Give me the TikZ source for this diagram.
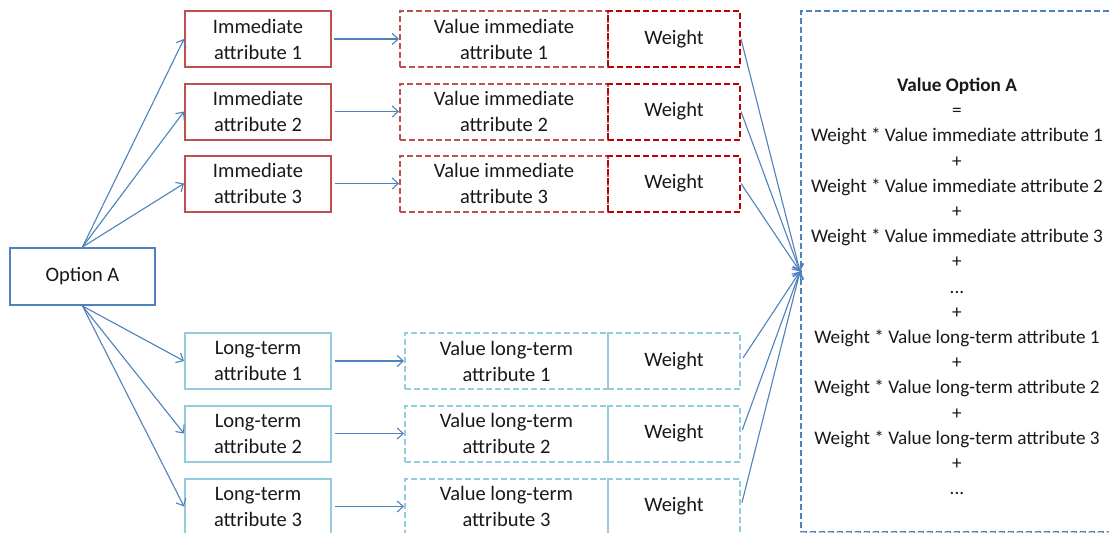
\documentclass[tikz,border=0pt]{standalone}
\usepackage{fontspec}
\setmainfont{Carlito}
\usetikzlibrary{arrows.meta}
\definecolor{ablue}{HTML}{4F81BD}
\definecolor{ired}{HTML}{C0504D}
\definecolor{wred}{HTML}{C00000}
\definecolor{lblue}{HTML}{93CDDD}
\definecolor{bblue}{HTML}{B9CDE5}
\tikzset{
  base/.style={rectangle, inner sep=0pt, align=center, fill=white, text=black!90, font=\fontsize{20.5}{26}\selectfont},
  optbox/.style={base, draw=ablue, line width=2pt, minimum width=145pt, minimum height=57pt},
  attrI/.style={base, draw=ired, line width=2pt, minimum width=146pt, minimum height=56pt},
  attrL/.style={base, draw=lblue, line width=2pt, minimum width=146pt, minimum height=56pt},
  dsh/.style={dash pattern=on 6pt off 3pt},
  valI/.style={base, draw=ired, dsh, line width=2pt, minimum width=208pt, minimum height=56pt},
  wtI/.style={base, draw=wred, dsh, line width=2pt, minimum width=132pt, minimum height=56pt, fill=none},
  valL/.style={base, draw=lblue, dsh, line width=2pt, minimum width=203pt, minimum height=56pt},
  wtL/.style={base, draw=lblue, dsh, line width=2pt, minimum width=132pt, minimum height=56pt, fill=none},
  sumbox/.style={rectangle, inner sep=0pt, draw=ablue, dsh, line width=2pt, minimum width=312pt, minimum height=521pt},
  formula/.style={align=center, inner sep=0pt, text=black!90, font=\fontsize{19.2}{25.2}\selectfont},
  arr/.style={draw=ablue, line width=1.1pt, -{Straight Barb[length=6pt,width=11pt,line width=1.1pt]}}
}
\begin{document}
\begin{tikzpicture}[x=1pt,y=-1pt]
\useasboundingbox (0,0) rectangle (1109,533);
\clip (0,0) rectangle (1109,533);
\fill[white] (0,0) rectangle (1109,533);

% summary box
\node[sumbox] (sum) at (957,271.5) {};
\draw[bblue, line width=2pt, dsh] (sum.south west) -- (sum.south east);
\node[formula] (form) at (957,286.5) {\textbf{Value Option A}\\=\\Weight * Value immediate attribute 1\\+\\Weight * Value immediate attribute 2\\+\\Weight * Value immediate attribute 3\\+\\...\\+\\Weight * Value long-term attribute 1\\+\\Weight * Value long-term attribute 2\\+\\Weight * Value long-term attribute 3\\+\\...};
\coordinate (conv) at (sum.west);

% option
\node[optbox] (opt) at (82.5,276.5) {Option A};

% immediate attributes
\node[attrI] (i1) at (258,39) {Immediate\\attribute 1};
\node[attrI] (i2) at (258,111.5) {Immediate\\attribute 2};
\node[attrI] (i3) at (258,183.5) {Immediate\\attribute 3};

% long-term attributes
\node[attrL] (l1) at (258,361) {Long-term\\attribute 1};
\node[attrL] (l2) at (258,433.5) {Long-term\\attribute 2};
\node[attrL] (l3) at (258,506.5) {Long-term\\attribute 3};

% value + weight immediate
\node[valI] (vi1) at (504,39) {Value immediate\\attribute 1};
\node[wtI] (wi1) at (674,39) {Weight};
\node[valI] (vi2) at (504,111.5) {Value immediate\\attribute 2};
\node[wtI] (wi2) at (674,111.5) {Weight};
\node[valI] (vi3) at (504,183.5) {Value immediate\\attribute 3};
\node[wtI] (wi3) at (674,183.5) {Weight};

% value + weight long-term
\node[valL] (vl1) at (506.5,361) {Value long-term\\attribute 1};
\node[wtL] (wl1) at (674,361) {Weight};
\node[valL] (vl2) at (506.5,433.5) {Value long-term\\attribute 2};
\node[wtL] (wl2) at (674,433.5) {Weight};
\node[valL] (vl3) at (506.5,506.5) {Value long-term\\attribute 3};
\node[wtL] (wl3) at (674,506.5) {Weight};

% arrows from option
\foreach \t in {i1,i2,i3} \draw[arr] (opt.north) -- (\t.west);
\foreach \t in {l1,l2,l3} \draw[arr] (opt.south) -- (\t.west);

% attribute to value
\draw[arr, shorten <=2pt] (i1.east) -- (vi1.west);
\draw[arr, shorten <=3pt] (i2.east) -- (vi2.west);
\draw[arr, shorten <=3pt] (i3.east) -- (vi3.west);
\draw[arr, shorten <=3pt] (l1.east) -- (vl1.west);
\draw[arr, shorten <=3pt] (l2.east) -- (vl2.west);
\draw[arr, shorten <=3pt] (l3.east) -- (vl3.west);

% weights to summary
\foreach \w in {wi1,wi2,wi3} \draw[arr] (\w.east) -- (conv);
\foreach \w in {wl1,wl2,wl3} \draw[arr, shorten <=4pt] (\w.east) -- (conv);
\end{tikzpicture}
\end{document}
